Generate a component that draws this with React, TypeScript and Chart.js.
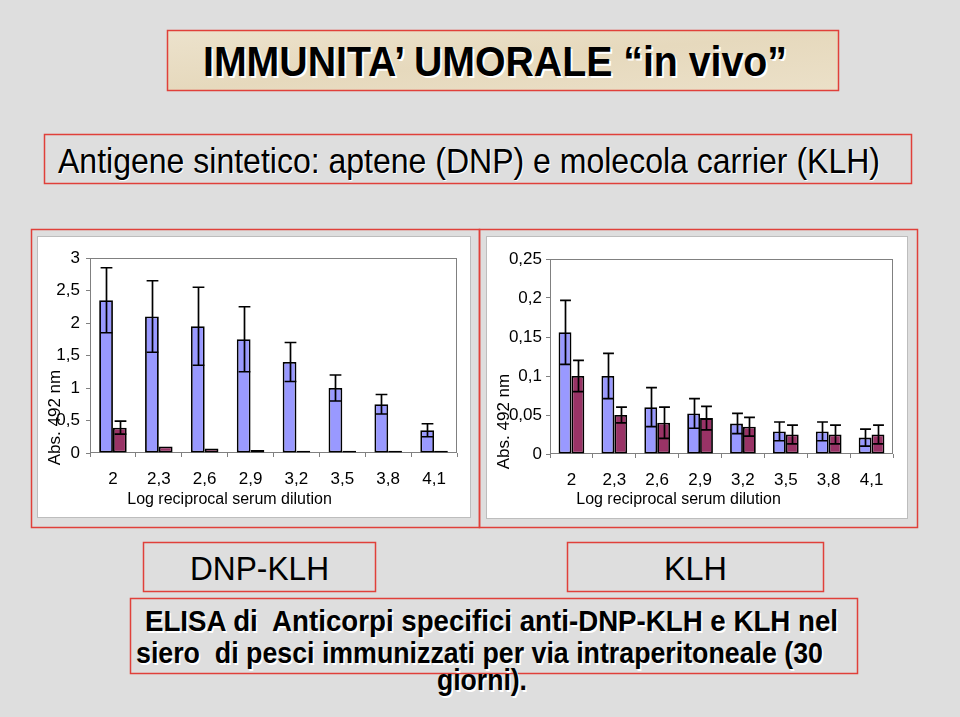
import React, { useEffect, useRef } from 'react';
import { Chart, registerables } from 'chart.js';

Chart.register(...registerables);

// ---- Data ----
const categories = ['2', '2,3', '2,6', '2,9', '3,2', '3,5', '3,8', '4,1'];

// DNP-KLH panel
const dnpBlue = [2.35, 2.1, 1.95, 1.75, 1.4, 1.0, 0.75, 0.35];
const dnpBlueErr = [0.5, 0.55, 0.6, 0.5, 0.3, 0.2, 0.15, 0.1];
const dnpRed = [0.39, 0.1, 0.07, 0.045, 0.035, 0.035, 0.035, 0.035];
const dnpRedErr = [0.1, 0, 0, 0, 0, 0, 0, 0];
const dnpYMax = 3;
const dnpYStep = 0.5;

// KLH panel
const klhBlue = [0.156, 0.1, 0.06, 0.052, 0.039, 0.029, 0.029, 0.021];
const klhBlueErr = [0.041, 0.029, 0.025, 0.019, 0.013, 0.012, 0.012, 0.011];
const klhRed = [0.1, 0.05, 0.04, 0.046, 0.035, 0.025, 0.025, 0.025];
const klhRedErr = [0.02, 0.01, 0.02, 0.015, 0.012, 0.012, 0.012, 0.012];
const klhYMax = 0.25;
const klhYStep = 0.05;

const xTitle = 'Log reciprocal serum dilution';
const yTitle = 'Abs. 492 nm';

const BLUE = '#9999ff';
const RED = '#993366';
const FONT = "'Liberation Sans', Arial, sans-serif";

const fmt = (v: number) => String(Number(v.toFixed(4))).replace('.', ',');

const errorBarPlugin = {
  id: 'errorBars',
  afterDatasetsDraw(chart: any) {
    const ctx = chart.ctx;
    const ys = chart.scales.y;
    chart.data.datasets.forEach((ds: any, i: number) => {
      const errs = ds.errors as number[] | undefined;
      if (!errs) return;
      const meta = chart.getDatasetMeta(i);
      meta.data.forEach((bar: any, j: number) => {
        const e = errs[j];
        if (!e) return;
        const v = ds.data[j] as number;
        const x = Math.round(bar.x) + 0.5;
        const hw = bar.width / 2 - 1;
        const yt = ys.getPixelForValue(v + e);
        const yb = ys.getPixelForValue(v - e);
        ctx.save();
        ctx.strokeStyle = '#000';
        ctx.lineWidth = 1.7;
        ctx.beginPath();
        ctx.moveTo(x, yt);
        ctx.lineTo(x, yb);
        ctx.moveTo(x - hw, yt);
        ctx.lineTo(x + hw, yt);
        ctx.moveTo(x - hw, yb);
        ctx.lineTo(x + hw, yb);
        ctx.stroke();
        ctx.restore();
      });
    });
  },
};

const framePlugin = {
  id: 'frame',
  beforeDatasetsDraw(chart: any) {
    const { ctx, chartArea: a } = chart;
    ctx.save();
    ctx.strokeStyle = '#808080';
    ctx.lineWidth = 1;
    const l = Math.round(a.left) + 0.5;
    const t = Math.round(a.top) + 0.5;
    const r = Math.round(a.right) - 0.5;
    const b = Math.round(a.bottom) - 0.5;
    ctx.strokeRect(l, t, r - l, b - t);
    ctx.restore();
  },
  afterDraw(chart: any, _args: any, opts: any) {
    const { ctx, chartArea: a } = chart;
    ctx.save();
    ctx.fillStyle = '#000';
    ctx.textAlign = 'center';
    ctx.textBaseline = 'alphabetic';
    ctx.font = `16px ${FONT}`;
    const cx = (a.left + a.right) / 2 + (opts.xOffset || 0);
    ctx.fillText(opts.xText || '', cx, opts.xBaseline || 0);
    ctx.font = `17px ${FONT}`;
    ctx.translate(opts.yX || 0, (a.top + a.bottom) / 2 + (opts.yOffset || 0));
    ctx.rotate(-Math.PI / 2);
    ctx.textBaseline = 'middle';
    ctx.fillText(opts.yText || '', 0, 0);
    ctx.restore();
  },
};

type PanelProps = {
  width: number;
  height: number;
  blue: number[];
  blueErr: number[];
  red: number[];
  redErr: number[];
  yMax: number;
  yStep: number;
  yAxisWidth: number;
  padTop: number;
  padRight: number;
  labelPad: number;
  titleOpts: any;
};

function Panel(p: PanelProps) {
  const ref = useRef<HTMLCanvasElement | null>(null);
  useEffect(() => {
    if (!ref.current) return;
    const chart = new Chart(ref.current, {
      type: 'bar',
      data: {
        labels: categories,
        datasets: [
          {
            data: p.blue,
            errors: p.blueErr,
            backgroundColor: BLUE,
            borderColor: '#000',
            borderWidth: 1.8,
            borderSkipped: false,
            categoryPercentage: 0.6,
            barPercentage: 1,
          } as any,
          {
            data: p.red,
            errors: p.redErr,
            backgroundColor: RED,
            borderColor: '#000',
            borderWidth: 1.8,
            borderSkipped: false,
            categoryPercentage: 0.6,
            barPercentage: 1,
          } as any,
        ],
      },
      options: {
        animation: false,
        responsive: false,
        events: [],
        layout: { padding: { top: p.padTop, right: p.padRight, left: 0, bottom: 0 } },
        plugins: {
          legend: { display: false },
          tooltip: { enabled: false },
          frame: p.titleOpts,
        } as any,
        scales: {
          x: {
            afterFit: (s: any) => {
              s.height = 64;
            },
            grid: {
              display: true,
              offset: true,
              drawOnChartArea: false,
              drawTicks: true,
              tickLength: 4,
              color: '#808080',
            },
            border: { display: false },
            ticks: {
              color: '#000',
              font: { family: FONT, size: 17 },
              padding: 12,
              maxRotation: 0,
              autoSkip: false,
            },
          },
          y: {
            min: 0,
            max: p.yMax,
            afterFit: (s: any) => {
              s.width = p.yAxisWidth;
            },
            grid: {
              display: true,
              drawOnChartArea: false,
              drawTicks: true,
              tickLength: 4,
              color: '#808080',
            },
            border: { display: false },
            ticks: {
              stepSize: p.yStep,
              color: '#000',
              font: { family: FONT, size: 17 },
              padding: p.labelPad,
              callback: (v: any) => fmt(Number(v)),
            },
          },
        },
      },
      plugins: [framePlugin, errorBarPlugin],
    });
    return () => chart.destroy();
  }, []);
  return <canvas ref={ref} width={p.width} height={p.height} style={{ display: 'block' }} />;
}

const RED_LINE = '#e0403a';

export default function App() {
  const txt = { fontFamily: FONT, whiteSpace: 'pre' as const };
  return (
    <div
      style={{
        position: 'fixed',
        left: 0,
        top: 0,
        width: 960,
        height: 717,
        background: '#dedede',
        overflow: 'hidden',
      }}
    >
      <svg width={960} height={717} style={{ position: 'absolute', left: 0, top: 0 }}>
        <defs>
          <linearGradient id="parch" x1="0" y1="0" x2="1" y2="1">
            <stop offset="0" stopColor="#ece2cc" />
            <stop offset="0.5" stopColor="#e6d9bd" />
            <stop offset="1" stopColor="#ebe0c8" />
          </linearGradient>
        </defs>
        {/* Title */}
        <rect x={167.5} y={30.5} width={671} height={60} fill="url(#parch)" stroke={RED_LINE} strokeWidth={1.5} />
        <text x={205} y={78} fontSize={42} fontWeight="bold" fill="#fff" textLength={584} lengthAdjust="spacingAndGlyphs" style={txt}>
          {'IMMUNITA’ UMORALE “in vivo”'}
        </text>
        <text x={203} y={76} fontSize={42} fontWeight="bold" fill="#000" textLength={584} lengthAdjust="spacingAndGlyphs" style={txt}>
          {'IMMUNITA’ UMORALE “in vivo”'}
        </text>
        {/* Subtitle */}
        <rect x={44.5} y={134.5} width={867} height={49} fill="none" stroke={RED_LINE} strokeWidth={1.5} />
        <text x={59} y={174} fontSize={35} fill="#fff" textLength={822} lengthAdjust="spacingAndGlyphs" style={txt}>
          Antigene sintetico: aptene (DNP) e molecola carrier (KLH)
        </text>
        <text x={58} y={173} fontSize={35} fill="#000" textLength={822} lengthAdjust="spacingAndGlyphs" style={txt}>
          Antigene sintetico: aptene (DNP) e molecola carrier (KLH)
        </text>
        {/* Chart frames */}
        <rect x={31.5} y={229.5} width={448} height={298} fill="none" stroke={RED_LINE} strokeWidth={1.5} />
        <rect x={479.5} y={229.5} width={438} height={298} fill="none" stroke={RED_LINE} strokeWidth={1.5} />
        <rect x={37.5} y={236.5} width={433} height={281} fill="#fff" stroke="#bdbdbd" strokeWidth={1} />
        <rect x={486.5} y={236.5} width={421} height={282} fill="#fff" stroke="#bdbdbd" strokeWidth={1} />
        {/* Panel labels */}
        <rect x={143.5} y={542.5} width={232} height={49} fill="none" stroke={RED_LINE} strokeWidth={1.5} />
        <text x={190} y={580} fontSize={33} fill="#000" textLength={139} lengthAdjust="spacingAndGlyphs" style={txt}>
          DNP-KLH
        </text>
        <rect x={567.5} y={542.5} width={256} height={49} fill="none" stroke={RED_LINE} strokeWidth={1.5} />
        <text x={664} y={580} fontSize={33} fill="#000" textLength={63} lengthAdjust="spacingAndGlyphs" style={txt}>
          KLH
        </text>
        {/* Caption */}
        <rect x={130.5} y={598.5} width={727} height={75} fill="none" stroke={RED_LINE} strokeWidth={1.5} />
        {[
          { t: 'ELISA di  Anticorpi specifici anti-DNP-KLH e KLH nel', x: 145, y: 631, w: 693 },
          { t: 'siero  di pesci immunizzati per via intraperitoneale (30', x: 136, y: 663, w: 687 },
          { t: 'giorni).', x: 437, y: 690, w: 90 },
        ].map((l, i) => (
          <g key={i}>
            <text x={l.x + 1.5} y={l.y + 1.5} fontSize={30} fontWeight="bold" fill="#fff" textLength={l.w} lengthAdjust="spacingAndGlyphs" style={txt}>
              {l.t}
            </text>
            <text x={l.x} y={l.y} fontSize={30} fontWeight="bold" fill="#000" textLength={l.w} lengthAdjust="spacingAndGlyphs" style={txt}>
              {l.t}
            </text>
          </g>
        ))}
      </svg>
      <div style={{ position: 'absolute', left: 38, top: 237 }}>
        <Panel
          width={432}
          height={280}
          blue={dnpBlue}
          blueErr={dnpBlueErr}
          red={dnpRed}
          redErr={dnpRedErr}
          yMax={dnpYMax}
          yStep={dnpYStep}
          yAxisWidth={52}
          padTop={21}
          padRight={13}
          labelPad={6}
          titleOpts={{ xText: xTitle, yText: yTitle, xOffset: -44, xBaseline: 267, yX: 17, yOffset: 62 }}
        />
      </div>
      <div style={{ position: 'absolute', left: 487, top: 237 }}>
        <Panel
          width={420}
          height={281}
          blue={klhBlue}
          blueErr={klhBlueErr}
          red={klhRed}
          redErr={klhRedErr}
          yMax={klhYMax}
          yStep={klhYStep}
          yAxisWidth={63}
          padTop={22}
          padRight={14}
          labelPad={4}
          titleOpts={{ xText: xTitle, yText: yTitle, xOffset: -43, xBaseline: 267, yX: 17, yOffset: 65 }}
        />
      </div>
    </div>
  );
}
